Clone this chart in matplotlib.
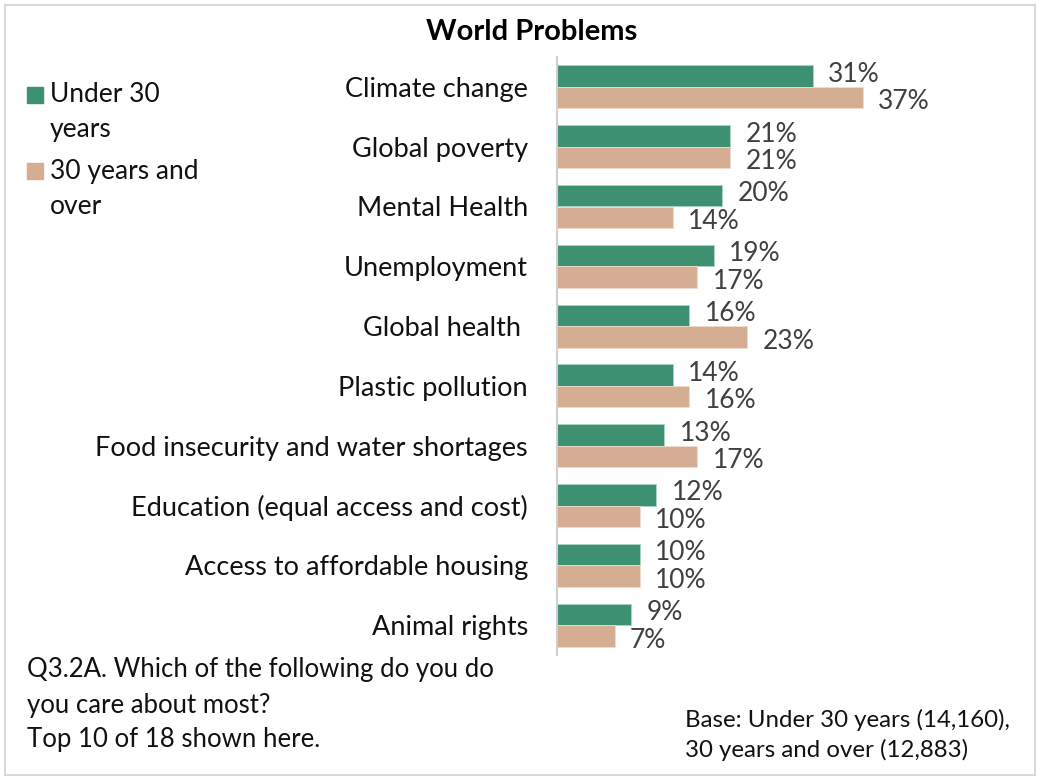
import matplotlib
matplotlib.use("Agg")
import matplotlib.pyplot as plt
import numpy as np
from matplotlib.patches import Rectangle

categories = ["Climate change", "Global poverty", "Mental Health", "Unemployment",
              "Global health ", "Plastic pollution", "Food insecurity and water shortages",
              "Education (equal access and cost)", "Access to affordable housing", "Animal rights"]
under30 = [31, 21, 20, 19, 16, 14, 13, 12, 10, 9]
over30 = [37, 21, 14, 17, 23, 16, 17, 10, 10, 7]
series_names = ["Under 30\nyears", "30 years and\nover"]

GREEN = "#3d9170"
TAN = "#d4ad92"
FONT = "Lato"

W, H = 1040, 780
fig = plt.figure(figsize=(W / 100, H / 100), dpi=100)

def fx(px):
    return px / W

def fy(py):
    return 1 - py / H

# outer frame
fig.patches.append(Rectangle((fx(5), fy(775)), fx(1030), 770 / H, transform=fig.transFigure,
                             fill=False, edgecolor="#d9d9d9", linewidth=1.5))

ax_left, ax_right = 557, 557 + 8.26 * 50
ax_top, ax_bot = 57, 655
ax = fig.add_axes([fx(ax_left), fy(ax_bot), fx(ax_right - ax_left), (ax_bot - ax_top) / H])

n = len(categories)
y = np.arange(n)
bh = 0.36
ax.barh(y - bh / 2, under30, height=bh, color=GREEN, edgecolor="#a9d6c2", linewidth=0.6)
ax.barh(y + bh / 2, over30, height=bh, color=TAN, edgecolor="#f0ddd0", linewidth=0.6)
ax.set_ylim(n - 0.5, -0.5)
ax.set_xlim(0, 50)
ax.set_yticks(y)
ax.set_yticklabels(categories, fontsize=19.5, family=FONT, color="#111111")
ax.tick_params(axis="y", length=0, pad=21)
ax.set_xticks([])
for s in ["top", "right", "bottom"]:
    ax.spines[s].set_visible(False)
ax.spines["left"].set_color("#d0d0d0")
ax.spines["left"].set_linewidth(1.5)

for i in range(n):
    ax.annotate(f"{under30[i]}%", (under30[i], y[i] - bh / 2 - 0.03), xytext=(11, 0),
                textcoords="offset points", va="center", ha="left", fontsize=19,
                family=FONT, color="#404040")
    ax.annotate(f"{over30[i]}%", (over30[i], y[i] + bh / 2 + 0.07), xytext=(11, 0),
                textcoords="offset points", va="center", ha="left", fontsize=19,
                family=FONT, color="#404040")

fig.text(fx(532), fy(32), "World Problems", ha="center", va="center", fontsize=21,
         fontweight="bold", family=FONT, color="#000000")

# legend
leg_y = [(95, 130), (171, 207)]
cols = [GREEN, TAN]
for (ya, yb), c, name in zip(leg_y, cols, series_names):
    fig.patches.append(Rectangle((fx(27), fy(ya + 8)), fx(16), 16 / H, transform=fig.transFigure,
                                 color=c))
    l1, l2 = name.split("\n")
    fig.text(fx(50), fy(ya), l1, ha="left", va="center", fontsize=19, family=FONT, color="#111111")
    fig.text(fx(50), fy(yb), l2, ha="left", va="center", fontsize=19, family=FONT, color="#111111")

for t, yy in zip(["Q3.2A. Which of the following do you do", "you care about most?",
                  "Top 10 of 18 shown here."], [670, 705, 740]):
    fig.text(fx(27), fy(yy), t, ha="left", va="center", fontsize=18.5, family=FONT, color="#111111")
for t, yy in zip(["Base: Under 30 years (14,160),", "30 years and over (12,883)"], [720, 750]):
    fig.text(fx(685), fy(yy), t, ha="left", va="center", fontsize=17.3, family=FONT, color="#111111")

fig.savefig("out.png", dpi=100, facecolor="white")
